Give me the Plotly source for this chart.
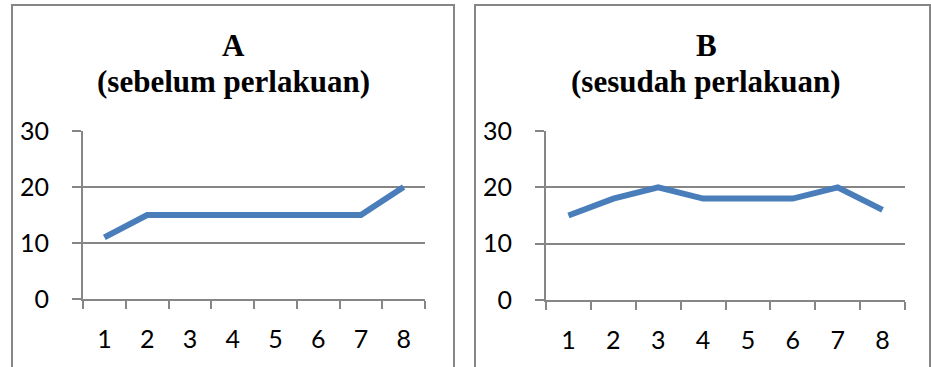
import plotly.graph_objects as go

categories = ["1", "2", "3", "4", "5", "6", "7", "8"]
values_a = [11, 15, 15, 15, 15, 15, 15, 20]
values_b = [15, 18, 20, 18, 18, 18, 20, 16]
title_a = ["A", "(sebelum perlakuan)"]
title_b = ["B", "(sesudah perlakuan)"]
y_ticks = [0, 10, 20, 30]

W, H = 931, 367
LINE = "#4a7ebb"
GRID = "#868686"

def px(x):
    return x / W

def py(y):
    return (H - y) / H

fig = go.Figure()
fig.add_trace(go.Scatter(x=categories, y=values_a, mode="lines",
                         line=dict(color=LINE, width=6), xaxis="x", yaxis="y"))
fig.add_trace(go.Scatter(x=categories, y=values_b, mode="lines",
                         line=dict(color=LINE, width=6), xaxis="x2", yaxis="y2"))

tickfont = dict(family="Lato, Open Sans, sans-serif", size=25, color="#000")

def xax(domain, anchor):
    return dict(domain=domain, anchor=anchor, type="category", range=[-0.5, 7.5],
                tickson="boundaries", ticks="outside", ticklen=8, tickcolor=GRID, tickwidth=2,
                showline=True, linecolor=GRID, linewidth=2, showgrid=False,
                tickfont=tickfont, ticklabelstandoff=17, fixedrange=True, automargin=False)

def yax(domain, anchor):
    return dict(domain=domain, anchor=anchor, range=[0, 30], tickvals=y_ticks,
                ticks="outside", ticklen=9, tickcolor=GRID, tickwidth=2,
                showline=True, linecolor=GRID, linewidth=2, showgrid=True,
                gridcolor=GRID, gridwidth=2, zeroline=False,
                tickfont=tickfont, ticklabelstandoff=18, fixedrange=True, automargin=False)

fig.update_layout(
    width=W, height=H, margin=dict(l=0, r=0, t=0, b=0, autoexpand=False),
    paper_bgcolor="white", plot_bgcolor="white", showlegend=False,
    xaxis=xax([px(83), px(425)], "y"),
    yaxis=yax([py(299), py(131)], "x"),
    xaxis2=xax([px(546), px(905)], "y2"),
    yaxis2=yax([py(300), py(131)], "x2"),
)

# panel borders
for x0, x1 in [(12, 454), (475, 930)]:
    fig.add_shape(type="rect", xref="paper", yref="paper",
                  x0=px(x0), x1=px(x1), y0=py(375), y1=py(5),
                  line=dict(color=GRID, width=2), fillcolor="rgba(0,0,0,0)")

titlefont = dict(family="Liberation Serif, Times New Roman, serif", size=31, color="#000")
for cx, (t1, t2) in [(233, title_a), (706, title_b)]:
    fig.add_annotation(x=px(cx), y=py(46), xref="paper", yref="paper", text="<b>%s</b>" % t1,
                       showarrow=False, font=titlefont, xanchor="center", yanchor="middle")
    fig.add_annotation(x=px(cx), y=py(82), xref="paper", yref="paper", text="<b>%s</b>" % t2,
                       showarrow=False, font=titlefont, xanchor="center", yanchor="middle")

fig.write_html("out.html", config={"displayModeBar": False},
               post_script="document.body.style.margin='0';document.body.style.overflow='hidden';")
